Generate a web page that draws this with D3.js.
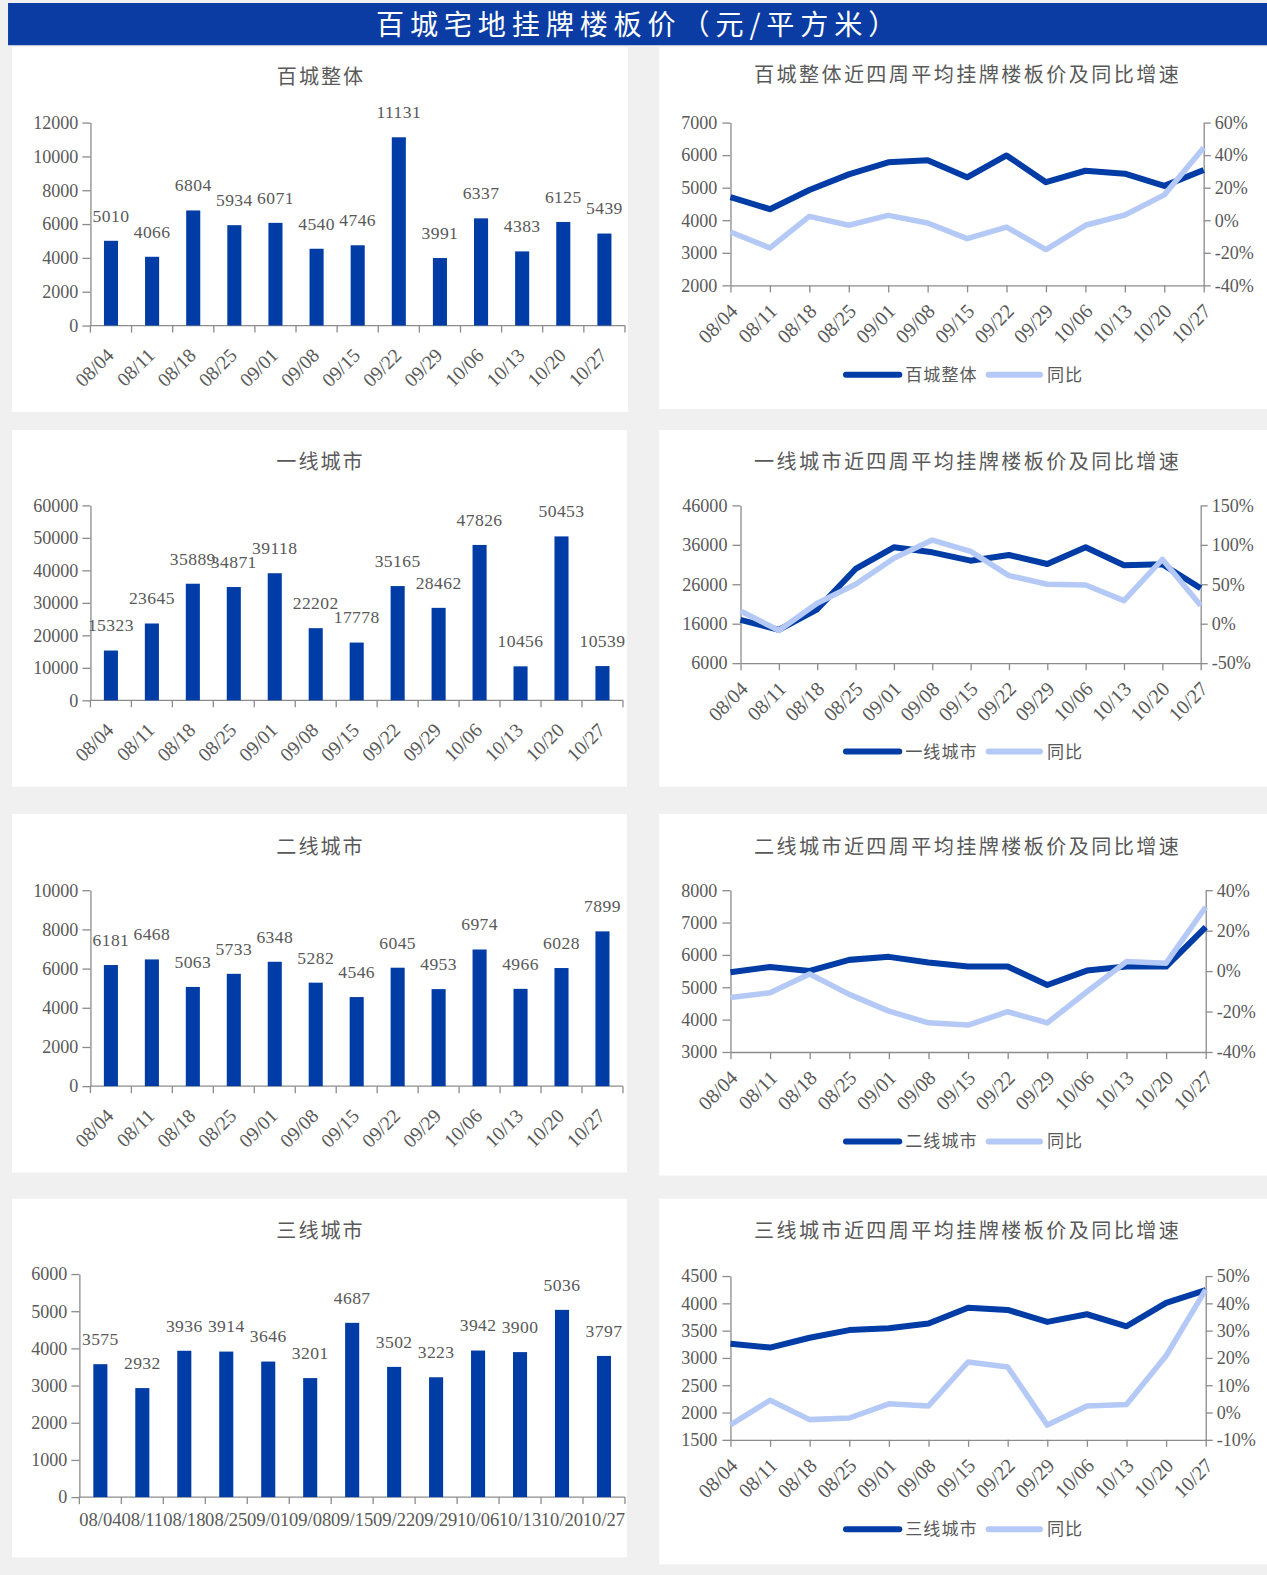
<!DOCTYPE html>
<html>
<head>
<meta charset="utf-8">
<script src="https://cdn.jsdelivr.net/npm/d3@7"></script>
<style>
  body { margin: 0; background: #f0f0f0; }
  svg { display: block; }
  .num { font-family: 'Liberation Serif', 'Times New Roman', serif; fill: #595959; }
  .cjk { font-family: 'Noto Sans CJK SC', sans-serif; fill: #595959; }
</style>
</head>
<body>
<div id="chart"></div>
<script>
// weeks on every x axis
const dates = ['08/04', '08/11', '08/18', '08/25', '09/01', '09/08', '09/15',
    '09/22', '09/29', '10/06', '10/13', '10/20', '10/27'];

// weekly listed floor price (bars)
const allCityPrice = [5010, 4066, 6804, 5934, 6071, 4540, 4746, 11131, 3991, 6337, 4383, 6125, 5439];
const tier1Price = [15323, 23645, 35889, 34871, 39118, 22202, 17778, 35165, 28462, 47826, 10456, 50453, 10539];
const tier2Price = [6181, 6468, 5063, 5733, 6348, 5282, 4546, 6045, 4953, 6974, 4966, 6028, 7899];
const tier3Price = [3575, 2932, 3936, 3914, 3646, 3201, 4687, 3502, 3223, 3942, 3900, 5036, 3797];

// four-week average price (left axis) and yoy % (right axis)
const allCityAvg = [4710, 4340, 4930, 5410, 5780, 5840, 5320, 5990, 5170, 5520, 5430, 5055, 5545];
const allCityYoy = [-7.2, -17, 2.4, -3.1, 3, -1.7, -11.3, -4.2, -18, -3.1, 3.2, 15.6, 44.5];
const tier1Avg = [16970, 14440, 19670, 29880, 35370, 34100, 31990, 33430, 31150, 35370, 30810, 31060, 24990];
const tier1Yoy = [16.2, -8.6, 26, 50, 83, 106, 91.6, 61, 50, 49, 29.3, 81.6, 23];
const tier2Avg = [5464, 5630, 5505, 5847, 5940, 5764, 5640, 5640, 5070, 5516, 5640, 5640, 6861];
const tier2Yoy = [-13, -10.7, -1.4, -11.5, -19.8, -25.6, -26.7, -20.1, -25.6, -10.2, 4.7, 3.9, 31.7];
const tier3Avg = [3260, 3190, 3370, 3510, 3545, 3630, 3920, 3880, 3660, 3800, 3580, 4010, 4240];
const tier3Yoy = [-4.5, 4.5, -2.6, -2, 3.2, 2.4, 18.5, 16.7, -4.6, 2.4, 2.9, 20.8, 45];

// tick labels
const barTicks1 = [0, 2000, 4000, 6000, 8000, 10000, 12000];
const barTicks2 = [0, 10000, 20000, 30000, 40000, 50000, 60000];
const barTicks3 = [0, 2000, 4000, 6000, 8000, 10000];
const barTicks4 = [0, 1000, 2000, 3000, 4000, 5000, 6000];
const lineTicksL1 = [2000, 3000, 4000, 5000, 6000, 7000];
const lineTicksR1 = [-40, -20, 0, 20, 40, 60];
const lineTicksL2 = [6000, 16000, 26000, 36000, 46000];
const lineTicksR2 = [-50, 0, 50, 100, 150];
const lineTicksL3 = [3000, 4000, 5000, 6000, 7000, 8000];
const lineTicksR3 = [-40, -20, 0, 20, 40];
const lineTicksL4 = [1500, 2000, 2500, 3000, 3500, 4000, 4500];
const lineTicksR4 = [-10, 0, 10, 20, 30, 40, 50];

const width = 1267;
const height = 1575;
const dark = '#003ca5';
const light = '#b5c9f7';
const axisColor = '#8c8c8c';

const svg = d3.select('#chart')
    .append('svg')
    .attr('width', width)
    .attr('height', height);

svg.append('rect').attr('width', width).attr('height', height).attr('fill', '#f0f0f0');

// everything below is laid out in the coordinates of the 1261px wide copy
const root = svg.append('g').attr('transform', `scale(${1267 / 1261})`);

// header bar
root.append('rect')
    .attr('x', 8).attr('y', 3).attr('width', 1260).attr('height', 42)
    .attr('fill', '#0a3ca4');
root.append('text')
    .attr('x', 636).attr('y', 35)
    .attr('text-anchor', 'middle')
    .style('font-family', "'Noto Sans CJK SC', sans-serif")
    .style('font-size', '28px')
    .style('letter-spacing', '5.8px')
    .style('fill', '#fff')
    .text('百城宅地挂牌楼板价（元/平方米）');

function styleAxis(g) {
    g.selectAll('path, line').attr('stroke', axisColor).attr('stroke-width', 1.3);
    g.selectAll('text').attr('class', 'num').style('font-size', '18px').attr('fill', '#595959');
}

function panelBox(box, title, titleY) {
    root.append('rect')
        .attr('x', box[0]).attr('y', box[1]).attr('width', box[2]).attr('height', box[3])
        .attr('fill', '#fff');
    root.append('text')
        .attr('class', 'cjk')
        .attr('x', box[0] + box[2] / 2 + 1).attr('y', titleY)
        .attr('text-anchor', 'middle')
        .style('font-size', '20px')
        .style('letter-spacing', title.length > 6 ? '2.4px' : '2px')
        .text(title);
}

function drawBars(p) {
    panelBox(p.box, p.title, p.titleY);

    const x = d3.scaleBand().domain(dates).range([p.x0, p.x1]);
    const y = d3.scaleLinear().domain([0, p.ticks[p.ticks.length - 1]]).range([p.y0, p.yTop]);
    const bw = 14;

    const yAxis = root.append('g')
        .attr('transform', `translate(${p.x0},0)`)
        .call(d3.axisLeft(y).tickValues(p.ticks).tickSize(8).tickSizeOuter(0).tickPadding(4).tickFormat(d3.format('d')));
    styleAxis(yAxis);

    // x axis with ticks on the band edges
    const edges = dates.map(d => x(d)).concat([p.x1]);
    root.append('line')
        .attr('x1', p.x0).attr('x2', p.x1).attr('y1', y(0)).attr('y2', y(0))
        .attr('stroke', axisColor).attr('stroke-width', 1.3);
    root.selectAll(null)
        .data(edges)
        .enter()
        .append('line')
        .attr('x1', d => d).attr('x2', d => d)
        .attr('y1', y(0)).attr('y2', y(0) + 7)
        .attr('stroke', axisColor).attr('stroke-width', 1.3);

    root.selectAll(null)
        .data(p.values)
        .enter()
        .append('rect')
        .attr('x', (d, i) => x(dates[i]) + x.bandwidth() / 2 - bw / 2)
        .attr('y', d => y(d))
        .attr('width', bw)
        .attr('height', d => y(0) - y(d))
        .attr('fill', dark);

    root.selectAll(null)
        .data(p.values)
        .enter()
        .append('text')
        .attr('class', 'num')
        .attr('x', (d, i) => x(dates[i]) + x.bandwidth() / 2)
        .attr('y', d => y(d) - 19)
        .attr('text-anchor', 'middle')
        .style('font-size', '17.5px')
        .style('letter-spacing', '0.4px')
        .text(d => d);

    const labels = root.selectAll(null)
        .data(dates)
        .enter()
        .append('text')
        .attr('class', 'num')
        .text(d => d);
    if (p.flat) {
        labels
            .style('font-size', '18.5px')
            .attr('x', d => x(d) + x.bandwidth() / 2)
            .attr('y', y(0) + 29)
            .attr('text-anchor', 'middle');
    } else {
        labels
            .style('font-size', '19.5px')
            .attr('text-anchor', 'end')
            .attr('dy', '0.35em')
            .attr('transform', d => `translate(${x(d) + x.bandwidth() / 2 - 1},${y(0) + 26}) rotate(-45)`);
    }
}

function drawLines(p) {
    panelBox(p.box, p.title, p.titleY);

    const x = d3.scalePoint().domain(dates).range([p.xl, p.xr]);
    const yL = d3.scaleLinear().domain(d3.extent(p.ticksL)).range([p.yb, p.yt]);
    const yR = d3.scaleLinear().domain(d3.extent(p.ticksR)).range([p.yb, p.yt]);

    const left = root.append('g')
        .attr('transform', `translate(${p.xl},0)`)
        .call(d3.axisLeft(yL).tickValues(p.ticksL).tickSize(8).tickSizeOuter(0).tickPadding(5).tickFormat(d3.format('d')));
    styleAxis(left);

    const right = root.append('g')
        .attr('transform', `translate(${p.xr},0)`)
        .call(d3.axisRight(yR).tickValues(p.ticksR).tickSize(7).tickSizeOuter(0).tickPadding(4).tickFormat(d => d + '%'));
    styleAxis(right);

    const bottom = root.append('g')
        .attr('transform', `translate(0,${p.yb})`)
        .call(d3.axisBottom(x).tickSize(7).tickSizeOuter(0));
    styleAxis(bottom);
    bottom.selectAll('text')
        .attr('x', 0).attr('y', 0)
        .attr('dy', '0.35em')
        .attr('text-anchor', 'end')
        .style('font-size', '20px')
        .attr('transform', 'translate(3,22) rotate(-45)');

    const lineL = d3.line().x((d, i) => x(dates[i])).y(d => yL(d));
    const lineR = d3.line().x((d, i) => x(dates[i])).y(d => yR(d));

    root.append('path')
        .datum(p.avg)
        .attr('d', lineL)
        .attr('fill', 'none')
        .attr('stroke', dark)
        .attr('stroke-width', 6)
        .attr('stroke-linejoin', 'round');

    root.append('path')
        .datum(p.yoy)
        .attr('d', lineR)
        .attr('fill', 'none')
        .attr('stroke', light)
        .attr('stroke-width', 5.5)
        .attr('stroke-linejoin', 'round');

    // legend
    const lx = p.box[0] + p.box[2] / 2 - 120;
    const lg = root.append('g').attr('transform', `translate(${lx},${p.legendY})`);
    lg.append('line').attr('x1', 0).attr('x2', 53).attr('stroke', dark).attr('stroke-width', 6).attr('stroke-linecap', 'round');
    lg.append('text').attr('class', 'cjk').attr('x', 59).attr('y', 6).style('font-size', '17px').style('letter-spacing', '1px').text(p.name);
    lg.append('line').attr('x1', 142).attr('x2', 193).attr('stroke', light).attr('stroke-width', 6).attr('stroke-linecap', 'round');
    lg.append('text').attr('class', 'cjk').attr('x', 200).attr('y', 6).style('font-size', '17px').style('letter-spacing', '1px').text('同比');
}

drawBars({ box: [12, 47, 613, 363], title: '百城整体', titleY: 84, values: allCityPrice, ticks: barTicks1,
    x0: 90, x1: 622, y0: 324, yTop: 122 });
drawBars({ box: [12, 428, 612, 355], title: '一线城市', titleY: 467, values: tier1Price, ticks: barTicks2,
    x0: 90, x1: 620, y0: 697, yTop: 503 });
drawBars({ box: [12, 810, 612, 357], title: '二线城市', titleY: 850, values: tier2Price, ticks: barTicks3,
    x0: 90, x1: 620, y0: 1081, yTop: 886 });
drawBars({ box: [12, 1193, 612, 357], title: '三线城市', titleY: 1232, values: tier3Price, ticks: barTicks4,
    x0: 79, x1: 622, y0: 1490, yTop: 1268, flat: true });

drawLines({ box: [656, 47, 612, 360], title: '百城整体近四周平均挂牌楼板价及同比增速', titleY: 82,
    name: '百城整体', avg: allCityAvg, yoy: allCityYoy, ticksL: lineTicksL1, ticksR: lineTicksR1,
    xl: 727, xr: 1198, yt: 122, yb: 284, legendY: 373 });
drawLines({ box: [656, 428, 612, 355], title: '一线城市近四周平均挂牌楼板价及同比增速', titleY: 467,
    name: '一线城市', avg: tier1Avg, yoy: tier1Yoy, ticksL: lineTicksL2, ticksR: lineTicksR2,
    xl: 737, xr: 1195, yt: 503, yb: 660, legendY: 748 });
drawLines({ box: [656, 810, 612, 360], title: '二线城市近四周平均挂牌楼板价及同比增速', titleY: 850,
    name: '二线城市', avg: tier2Avg, yoy: tier2Yoy, ticksL: lineTicksL3, ticksR: lineTicksR3,
    xl: 727, xr: 1200, yt: 886, yb: 1047, legendY: 1136 });
drawLines({ box: [656, 1193, 612, 364], title: '三线城市近四周平均挂牌楼板价及同比增速', titleY: 1232,
    name: '三线城市', avg: tier3Avg, yoy: tier3Yoy, ticksL: lineTicksL4, ticksR: lineTicksR4,
    xl: 727, xr: 1200, yt: 1270, yb: 1433, legendY: 1522 });
</script>
</body>
</html>
